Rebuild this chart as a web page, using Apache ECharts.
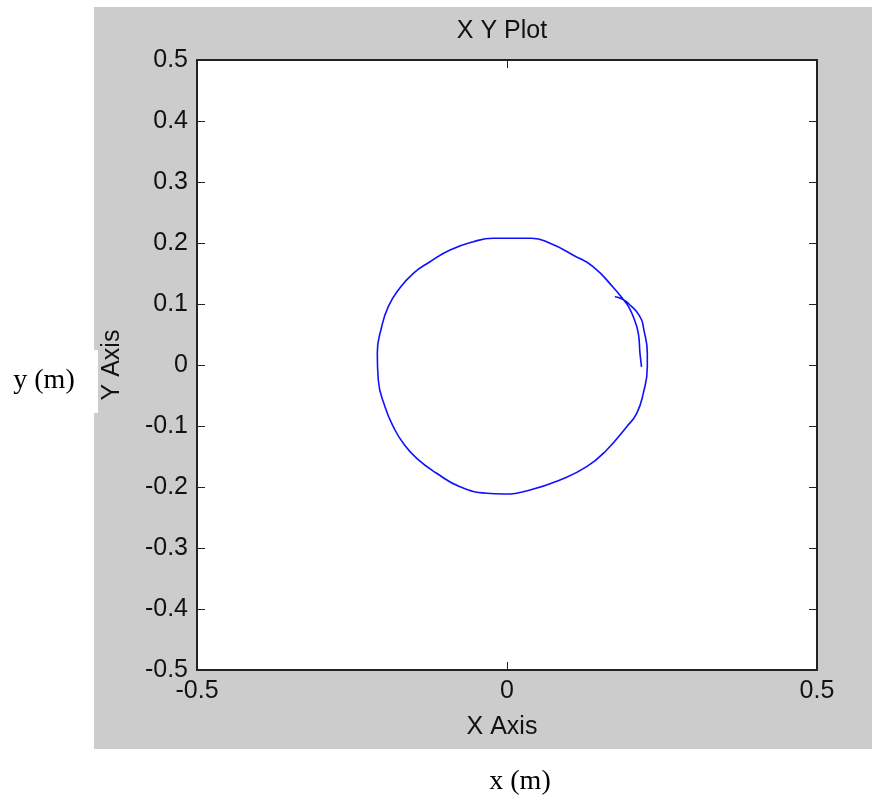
<!DOCTYPE html>
<html>
<head>
<meta charset="utf-8">
<script src="https://cdn.jsdelivr.net/npm/echarts@6/dist/echarts.min.js"></script>
<style>
html,body{margin:0;padding:0;background:#fff;}
#c{width:872px;height:798px;}
</style>
</head>
<body>
<div id="c"></div>
<script>
// Trajectory samples (x, y in metres)
var xValues = [0.217,0.2145,0.2118,0.2037,0.1957,0.1903,
  0.1715,0.1392,0.107,0.0694,0.0398,0.008,-0.0221,-0.0544,-0.0919,-0.1242,-0.1511,-0.1753,-0.1915,-0.2021,-0.2092,
  -0.2076,-0.1968,-0.1834,-0.1673,-0.1456,-0.1134,-0.0758,-0.0327,-0.006,0.0371,0.0855,0.1285,0.1608,0.1931,0.2092,
  0.2198,0.2263,0.2263,0.2198,0.2172,0.2092,0.1984,0.1915,0.182,0.174];
var yValues = [-0.003,0.019,0.052,0.079,0.096,0.104,
  0.127,0.161,0.180,0.1995,0.2077,0.2077,0.2077,0.2021,0.1885,0.1693,0.1503,0.123,0.0956,0.0628,0.0192,
  -0.0246,-0.0684,-0.1011,-0.1284,-0.153,-0.1775,-0.1995,-0.2103,-0.2115,-0.2049,-0.1885,-0.1667,-0.1393,-0.1011,-0.0792,
  -0.0464,-0.003,0.0192,0.0628,0.0738,0.0874,0.0984,0.1045,0.110,0.112];
var xTicks = [-0.5, 0, 0.5];
var yTicks = [-0.5,-0.4,-0.3,-0.2,-0.1,0,0.1,0.2,0.3,0.4,0.5];
var titleText = 'X Y Plot';
var xAxisName = 'X Axis';
var yAxisName = 'Y Axis';
var xUnitLabel = 'x (m)';
var yUnitLabel = 'y (m)';

var pathData = xValues.map(function(x, i){ return [x, yValues[i]]; });

var sans = '"Liberation Sans", Arial, sans-serif';
var serif = '"Liberation Serif", "Times New Roman", serif';
var txtColor = '#111';
var frame = {color:'#222', width:2};

function fmt(v){ return String(+(+v).toFixed(1)); }

var baseX = {
  type:'value', min:xTicks[0], max:xTicks[xTicks.length-1], interval:0.5,
  splitLine:{show:false},
  axisLine:{show:true, onZero:false, lineStyle:frame},
  axisTick:{show:true, inside:true, length:8, lineStyle:{color:'#222', width:1}}
};
var baseY = {
  type:'value', min:yTicks[0], max:yTicks[yTicks.length-1], interval:0.1,
  splitLine:{show:false},
  axisLine:{show:true, onZero:false, lineStyle:frame},
  axisTick:{show:true, inside:true, length:8, lineStyle:{color:'#222', width:1}}
};

var chart = echarts.init(document.getElementById('c'), null, {renderer:'canvas'});
chart.setOption({
  backgroundColor:'#fff',
  animation:false,
  title:{
    text:titleText, left:502, top:19, textAlign:'center', padding:0,
    textStyle:{fontFamily:sans, fontSize:25, fontWeight:'normal', color:txtColor}
  },
  graphic:{elements:[
    {type:'rect', z:-10, shape:{x:94, y:7, width:778, height:742}, style:{fill:'#cccccc'}},
    {type:'rect', z:-9, shape:{x:94, y:350, width:4, height:63}, style:{fill:'#ffffff'}},
    {type:'text', z:10, x:44, y:381, style:{text:yUnitLabel, fontFamily:serif, fontSize:28, fill:'#000', textAlign:'center', textVerticalAlign:'middle'}},
    {type:'text', z:10, x:520, y:782, style:{text:xUnitLabel, fontFamily:serif, fontSize:28, fill:'#000', textAlign:'center', textVerticalAlign:'middle'}}
  ]},
  grid:{left:197, top:60, width:620, height:610, show:true, backgroundColor:'#fff', borderWidth:0, containLabel:false},
  xAxis:[
    Object.assign({}, baseX, {
      position:'bottom',
      name:xAxisName, nameLocation:'middle', nameGap:45,
      nameTextStyle:{fontFamily:sans, fontSize:25, color:txtColor, padding:[0,10,0,0]},
      axisLabel:{show:true, margin:9, fontFamily:sans, fontSize:25, color:txtColor, formatter:fmt}
    }),
    Object.assign({}, baseX, {position:'top', axisLabel:{show:false}})
  ],
  yAxis:[
    Object.assign({}, baseY, {
      position:'left',
      name:yAxisName, nameLocation:'middle', nameGap:72, nameRotate:90,
      nameTextStyle:{fontFamily:sans, fontSize:25, color:txtColor},
      axisLabel:{show:true, margin:9, fontFamily:sans, fontSize:25, color:txtColor, formatter:fmt}
    }),
    Object.assign({}, baseY, {position:'right', axisLabel:{show:false}})
  ],
  series:[{
    type:'line', xAxisIndex:0, yAxisIndex:0,
    data:pathData, showSymbol:false, smooth:0.5,
    lineStyle:{color:'#1010ff', width:1.6},
    z:5
  }]
});
</script>
</body>
</html>
